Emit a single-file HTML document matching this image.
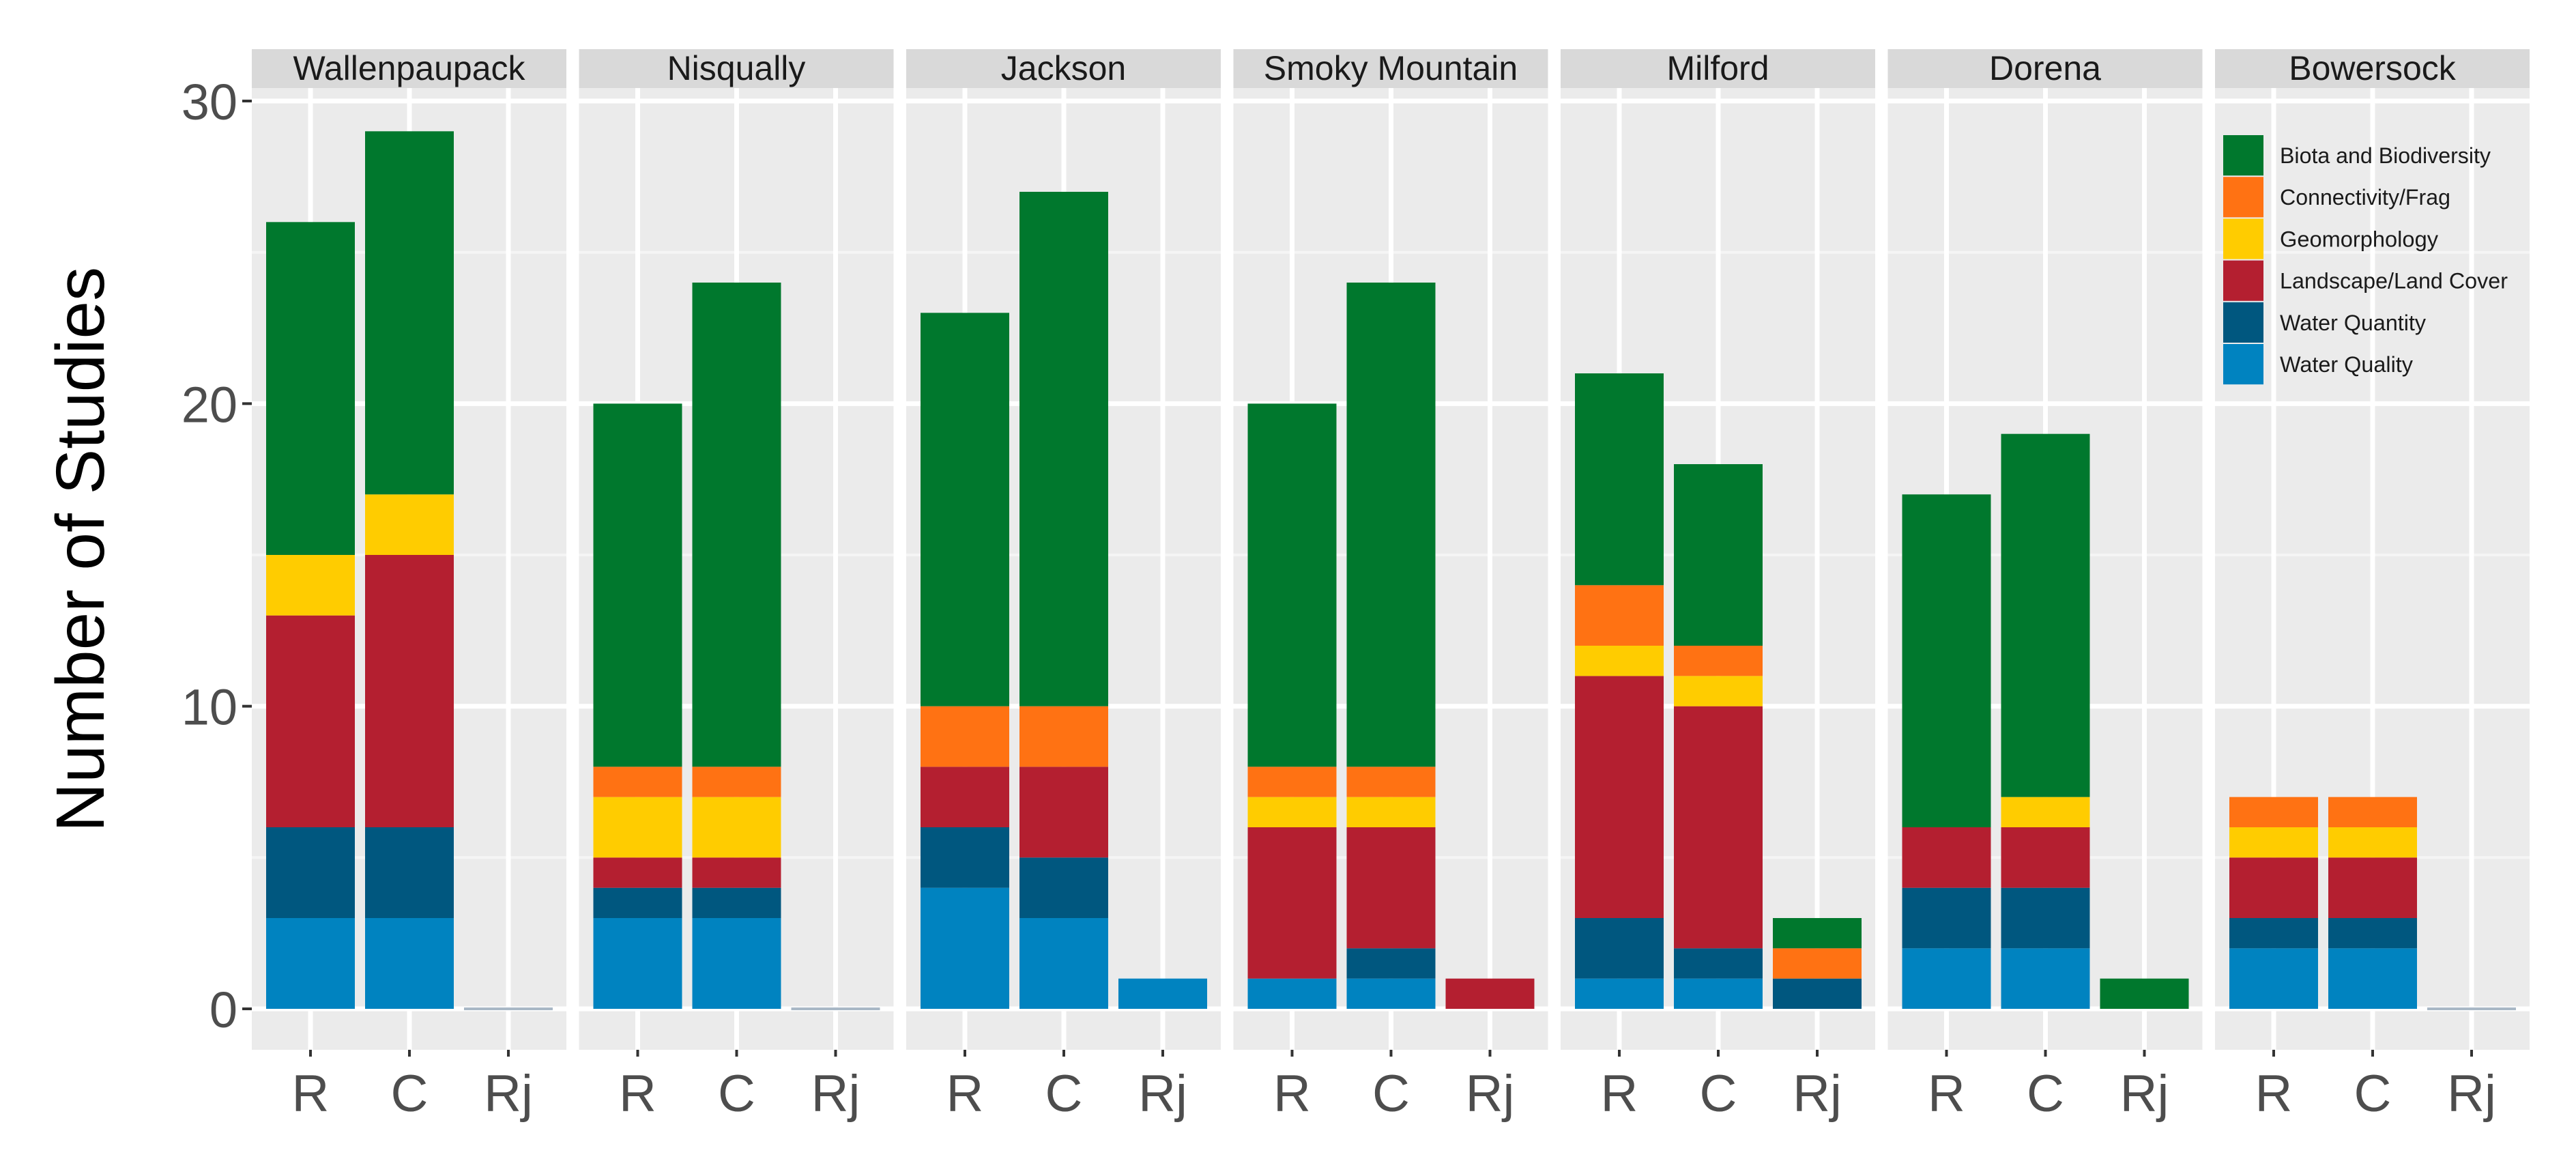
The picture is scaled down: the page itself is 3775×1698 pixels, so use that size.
<!DOCTYPE html>
<html><head><meta charset="utf-8"><style>
html,body{margin:0;padding:0;background:#fff;}
svg{display:block;}
text{font-family:"Liberation Sans",Arial,sans-serif;}
</style></head><body>
<svg id="chart" width="3775" height="1698" viewBox="0 0 3775 1698" xmlns="http://www.w3.org/2000/svg">
<text x="0" y="0" transform="translate(152,805) rotate(-90)" text-anchor="middle" font-size="100" fill="#000">Number of Studies</text>
</svg>
<script>
const panels = ["Wallenpaupack","Nisqually","Jackson","Smoky Mountain","Milford","Dorena","Bowersock"];
const categories = ["R","C","Rj"];
const seriesNames = ["Water Quality","Water Quantity","Landscape/Land Cover","Geomorphology","Connectivity/Frag","Biota and Biodiversity"];
const seriesColors = ["#0083c0","#00577f","#b41f30","#ffcc00","#ff7213","#00782d"];
const legendOrder = [5,4,3,2,1,0];
const yTicks = [0,10,20,30];
// values[panel][category] = [WQual, WQuant, Landscape, Geo, Conn, Biota]
const wallenpaupack = [[3,3,7,2,0,11],[3,3,9,2,0,12],[0,0,0,0,0,0]];
const nisqually     = [[3,1,1,2,1,12],[3,1,1,2,1,16],[0,0,0,0,0,0]];
const jackson       = [[4,2,2,0,2,13],[3,2,3,0,2,17],[1,0,0,0,0,0]];
const smoky         = [[1,0,5,1,1,12],[1,1,4,1,1,16],[0,0,1,0,0,0]];
const milford       = [[1,2,8,1,2,7],[1,1,8,1,1,6],[0,1,0,0,1,1]];
const dorena        = [[2,2,2,0,0,11],[2,2,2,1,0,12],[0,0,0,0,0,1]];
const bowersock     = [[2,1,2,1,1,0],[2,1,2,1,1,0],[0,0,0,0,0,0]];
const values = [wallenpaupack,nisqually,jackson,smoky,milford,dorena,bowersock];

const NS="http://www.w3.org/2000/svg";
const svg=document.getElementById('chart');
function mk(tag,attrs,parent){const e=document.createElementNS(NS,tag);for(const k in attrs)e.setAttribute(k,attrs[k]);(parent||svg).appendChild(e);return e;}
const panelX0=369, panelStep=479.5, panelW=461, plotTop=129, plotBot=1538, stripTop=72;
const y0=1478, yPer=(1478-148)/30;
const yScale=v=>y0-v*yPer;
const catOffset=86, catStep=145, barW=130;
const xScale=(p,c)=>panelX0+p*panelStep+catOffset+c*catStep;

panels.forEach((name,p)=>{
  const px=panelX0+p*panelStep;
  const g=mk('g',{});
  
  
  const bg=mk('rect',{x:px,y:plotTop,width:panelW,height:plotBot-plotTop,fill:'#ebebeb'},g);
  
  
  [5,15,25].forEach(v=>{const l=mk('line',{x1:px,x2:px+panelW,y1:yScale(v),y2:yScale(v),stroke:'#f5f5f5','stroke-width':4},g);
    });
  yTicks.forEach(v=>{const l=mk('line',{x1:px,x2:px+panelW,y1:yScale(v),y2:yScale(v),stroke:'#fff','stroke-width':7},g);
    });
  categories.forEach((c,ci)=>{const cx=xScale(p,ci);
    const l=mk('line',{x1:cx,x2:cx,y1:plotTop,y2:plotBot,stroke:'#fff','stroke-width':7},g);
    });
  const st=mk('rect',{x:px,y:stripTop,width:panelW,height:plotTop-stripTop,fill:'#d9d9d9'},g);
  
  
  const tt=mk('text',{x:px+panelW/2,y:stripTop+45,'text-anchor':'middle','font-size':50,fill:'#1a1a1a'},g);
  tt.textContent=name;
  
  
  categories.forEach((c,ci)=>{
    const cx=xScale(p,ci); const vals=values[p][ci];
    const total=vals.reduce((a,b)=>a+b,0);
    if(total===0){
      const z=mk('line',{x1:cx-barW/2,x2:cx+barW/2,y1:y0,y2:y0,stroke:'#a9b8c6','stroke-width':4},g);
      
      
      return;
    }
    let cum=0;
    vals.forEach((v,si)=>{
      if(v<=0)return;
      const r=mk('rect',{x:cx-barW/2,y:yScale(cum+v),width:barW,height:v*yPer,fill:seriesColors[si]},g);
      
      
      cum+=v;
    });
  });
  categories.forEach((c,ci)=>{const cx=xScale(p,ci);
    const tk=mk('line',{x1:cx,x2:cx,y1:plotBot,y2:plotBot+10,stroke:'#333','stroke-width':4},g);
    
    const t=mk('text',{x:cx,y:1628,'text-anchor':'middle','font-size':76,fill:'#4d4d4d'},g);
    t.textContent=c;
    
    
  });
});
yTicks.forEach(v=>{
  const tk=mk('line',{x1:355,x2:369,y1:yScale(v),y2:yScale(v),stroke:'#333','stroke-width':4});
  
  const t=mk('text',{x:348,y:yScale(v)+27,'text-anchor':'end','font-size':74,fill:'#4d4d4d'});
  t.textContent=String(v);
  
  
});
const lg=mk('g',{});


const keyX=3258, keyY=198, keyH=61.2, keyW=59;
const legendTextWidths=[309,250,232,334,214,195];
legendOrder.forEach((si,i)=>{
  const r=mk('rect',{x:keyX,y:keyY+i*keyH,width:keyW,height:keyH-2,fill:seriesColors[si]},lg);
  
  
  const t=mk('text',{x:3341,y:keyY+i*keyH+41,'font-size':32,fill:'#1a1a1a',textLength:legendTextWidths[i],lengthAdjust:'spacingAndGlyphs'},lg);
  t.textContent=seriesNames[si];
  
  
});
</script>
</body></html>
